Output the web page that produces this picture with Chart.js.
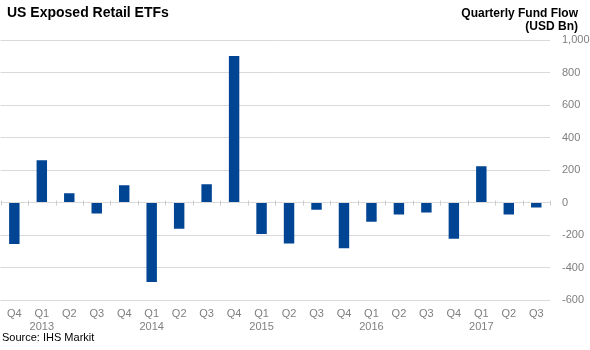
<!DOCTYPE html>
<html>
<head>
<meta charset="utf-8">
<script src="https://cdn.jsdelivr.net/npm/chart.js@4.4.0/dist/chart.umd.min.js"></script>
<style>
  body { margin: 0; background: #fff; font-family: "Liberation Sans", Arial, sans-serif; }
  #wrap { position: relative; width: 590px; height: 350px; }
  #chart1 { position: absolute; left: 0; top: 0; }
  .title { position: absolute; left: 7px; top: 4px; font-size: 14px; font-weight: bold; color: #000; }
  .unit { position: absolute; right: 12px; top: 7px; font-size: 12px; font-weight: bold; color: #000; text-align: right; line-height: 13px; }
  .source { position: absolute; left: 2px; top: 331px; font-size: 11px; color: #000; }
</style>
</head>
<body>
<div id="wrap">
  <canvas id="chart1" width="590" height="350"></canvas>
  <div class="title">US Exposed Retail ETFs</div>
  <div class="unit">Quarterly Fund Flow<br>(USD Bn)</div>
  <div class="source">Source: IHS Markit</div>
</div>
<script>
// quarters, Q4 2012 .. Q3 2017
const labels = [
    'Q4', ['Q1', '2013'], 'Q2', 'Q3',
    'Q4', ['Q1', '2014'], 'Q2', 'Q3',
    'Q4', ['Q1', '2015'], 'Q2', 'Q3',
    'Q4', ['Q1', '2016'], 'Q2', 'Q3',
    'Q4', ['Q1', '2017'], 'Q2', 'Q3'
];
const fund_flow = [
    -255, 260, 57, -67,
    106, -489, -162, 112,
    902, -194, -253, -45,
    -282, -118, -74, -61,
    -223, 223, -74, -31
];

// little tick marks along the zero line
const zeroTicks = {
    id: 'zeroTicks',
    afterDatasetsDraw(chart) {
        const x = chart.scales.x;
        const y0 = chart.scales.y.getPixelForValue(0);
        const c = chart.ctx;
        const half = (x.getPixelForValue(1) - x.getPixelForValue(0)) / 2;
        c.save();
        c.strokeStyle = '#cccccc';
        c.lineWidth = 1;
        for (let i = 0; i <= labels.length; i++) {
            const px = Math.round(x.getPixelForValue(i) - half) + 0.5;
            c.beginPath();
            c.moveTo(px, y0 - 2);
            c.lineTo(px, y0 + 3);
            c.stroke();
        }
        c.restore();
    }
};

const ctx = document.getElementById('chart1').getContext('2d');
const myChart = new Chart(ctx, {
    type: 'bar',
    data: {
        labels: labels,
        datasets: [{
            label: 'Quarterly Fund Flow',
            data: fund_flow,
            backgroundColor: '#004593',
            barPercentage: 0.76,
            categoryPercentage: 0.5
        }]
    },
    options: {
        responsive: false,
        animation: false,
        layout: { padding: { top: 40, left: 0, right: 0, bottom: 0 } },
        plugins: {
            legend: { display: false },
            tooltip: { enabled: false }
        },
        scales: {
            x: {
                grid: { display: false, drawTicks: false },
                border: { display: false },
                ticks: {
                    color: '#7f7f7f',
                    font: { family: 'Liberation Sans', size: 11 },
                    padding: 7,
                    maxRotation: 0,
                    autoSkip: false
                },
                afterFit(scale) { scale.height = 50; }
            },
            y: {
                position: 'right',
                min: -600,
                max: 1000,
                ticks: {
                    stepSize: 200,
                    color: '#7f7f7f',
                    font: { family: 'Liberation Sans', size: 11 },
                    padding: 12
                },
                grid: { color: '#d9d9d9', drawTicks: false },
                border: { display: false },
                afterFit(scale) { scale.width = 40; }
            }
        }
    },
    plugins: [zeroTicks]
});
</script>
</body>
</html>
